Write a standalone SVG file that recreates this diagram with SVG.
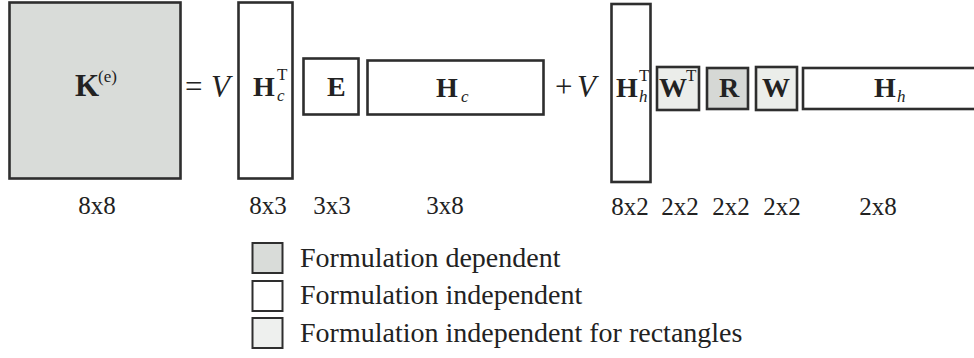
<svg xmlns="http://www.w3.org/2000/svg" width="974" height="358" viewBox="0 0 974 358">
<style>
.box{stroke:#2e2e2e;stroke-width:2.6;fill:#ffffff}
.dep{fill:#d9dcd9}
.rect{fill:#ebedea}
.m{font-family:"Liberation Serif","Times New Roman",serif;font-weight:bold;font-size:28px;fill:#222}
.k{font-size:31px}
.s{font-family:"Liberation Serif","Times New Roman",serif;font-size:17px;fill:#222}
.i{font-style:italic}
.op{font-family:"Liberation Serif","Times New Roman",serif;font-size:31px;fill:#222}
.dim{font-family:"Liberation Serif","Times New Roman",serif;font-size:25px;fill:#222;text-anchor:middle}
.leg{font-family:"Liberation Serif","Times New Roman",serif;font-size:28px;fill:#222}
</style>
<rect width="974" height="358" fill="#ffffff"/>
<g id="connectors"></g>
<g id="K">
<rect class="box dep" x="9.5" y="2.5" width="171" height="176"/>
<text class="m k" x="75" y="96">K</text>
<text class="s" x="98" y="82" font-size="20">(e)</text>
</g>
<g id="eq">
<text class="op" x="185" y="97">=</text>
<text class="op i" x="211" y="97">V</text>
</g>
<g id="HcT">
<rect class="box" x="238.5" y="2.5" width="54" height="176"/>
<text class="m" x="253" y="96">H</text>
<text class="s" x="277" y="80">T</text>
<text class="s i" x="277" y="101" font-size="19">c</text>
</g>
<g id="E">
<rect class="box" x="303.5" y="58.5" width="55" height="56"/>
<text class="m" x="327" y="96">E</text>
</g>
<g id="Hc">
<rect class="box" x="367.5" y="60.5" width="176" height="54"/>
<text class="m" x="436" y="97">H</text>
<text class="s i" x="461" y="102" font-size="19">c</text>
</g>
<g id="plus">
<text class="op" x="555" y="97">+</text>
<text class="op i" x="577" y="97">V</text>
</g>
<g id="HhT">
<rect class="box" x="611.5" y="4" width="39" height="178"/>
<text class="m" x="616" y="97">H</text>
<text class="s" x="639" y="81" font-size="15">T</text>
<text class="s i" x="639" y="102" font-size="18">h</text>
</g>
<g id="WT">
<rect class="box rect" x="657" y="67" width="42" height="43"/>
<text class="m" x="659" y="97" font-size="24">W</text>
<text class="s" x="686" y="81" font-size="14">T</text>
</g>
<g id="R">
<rect class="box" x="707" y="68" width="41" height="41" style="fill:#d6d8d5"/>
<text class="m" x="719" y="97">R</text>
</g>
<g id="W">
<rect class="box rect" x="756" y="67" width="41" height="43"/>
<text class="m" x="762" y="97" font-size="27">W</text>
</g>
<g id="Hh">
<rect class="box" x="803" y="68" width="185" height="41"/>
<text class="m" x="874" y="97">H</text>
<text class="s i" x="897" y="102" font-size="19">h</text>
</g>
<g id="dims">
<text class="dim" x="97" y="214">8x8</text>
<text class="dim" x="268" y="214">8x3</text>
<text class="dim" x="332" y="214">3x3</text>
<text class="dim" x="445" y="214">3x8</text>
<text class="dim" x="630" y="215">8x2</text>
<text class="dim" x="680" y="215">2x2</text>
<text class="dim" x="731" y="215">2x2</text>
<text class="dim" x="782" y="215">2x2</text>
<text class="dim" x="878" y="215">2x8</text>
</g>
<g id="legend">
<rect class="box dep" x="252.5" y="243" width="30" height="30" style="stroke-width:2"/>
<text class="leg" x="300" y="267">Formulation dependent</text>
<rect class="box" x="252.5" y="281" width="30" height="30" style="stroke-width:2"/>
<text class="leg" x="300" y="304">Formulation independent</text>
<rect class="box" x="252.5" y="318" width="30" height="30" style="stroke-width:2;fill:#eef0ee"/>
<text class="leg" x="300" y="342">Formulation independent for rectangles</text>
</g>
</svg>
